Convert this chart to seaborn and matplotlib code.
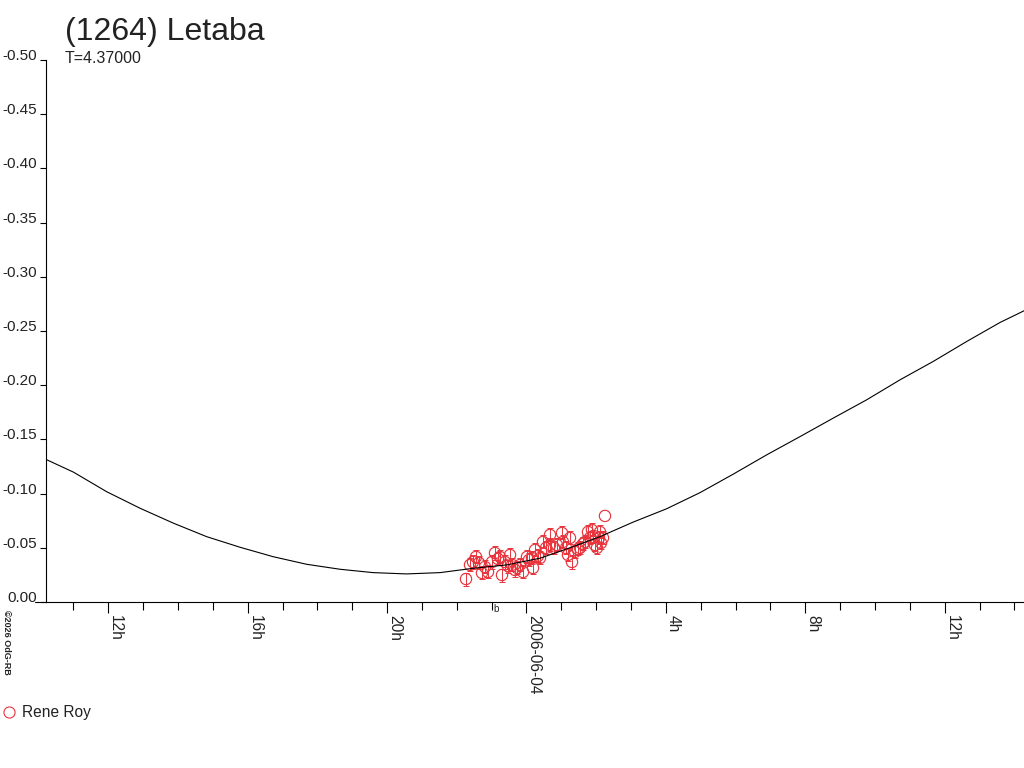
import numpy as np
import pandas as pd
import seaborn as sns
import matplotlib
matplotlib.use("Agg")
import matplotlib.pyplot as plt
from matplotlib.lines import Line2D
from matplotlib.ticker import MultipleLocator, FixedLocator

# fitted curve, hours from 2006-06-04 0h UT vs relative magnitude
curve_hours = [-13.82, -13.00, -12.05, -11.09, -10.13, -9.18, -8.22, -7.27, -6.31,
               -5.35, -4.40, -3.44, -2.48, -1.91, -1.53, -0.57, 0.39, 1.34, 2.11,
               3.06, 4.02, 4.98, 5.93, 6.89, 7.85, 8.80, 9.76, 10.72, 11.67, 12.63,
               13.59, 14.30]
curve_mag = [-0.1320, -0.1198, -0.1018, -0.0865, -0.0727, -0.0603, -0.0505, -0.0418,
             -0.0348, -0.0302, -0.0271, -0.0259, -0.0271, -0.0295, -0.0311, -0.0342,
             -0.0404, -0.0511, -0.0603, -0.0737, -0.0860, -0.1009, -0.1179, -0.1357,
             -0.1526, -0.1696, -0.1865, -0.2050, -0.2219, -0.2403, -0.2579, -0.2690]

# observations (Rene Roy)
obs_hours = [-1.736, -1.621, -1.535, -1.449, -1.363, -1.277, -1.191, -1.105, -0.990,
             -0.904, -0.818, -0.760, -0.703, -0.617, -0.531, -0.473, -0.416, -0.330,
             -0.273, -0.187, -0.100, 0.014, 0.072, 0.158, 0.187, 0.244, 0.330, 0.387,
             0.473, 0.560, 0.674, 0.674, 0.789, 0.875, 1.019, 1.047, 1.133, 1.191,
             1.248, 1.306, 1.392, 1.478, 1.535, 1.621, 1.679, 1.765, 1.822, 1.879,
             1.908, 1.966, 2.023, 2.080, 2.109, 2.138, 2.195, 2.252]
obs_mag = [-0.0212, -0.0342, -0.0369, -0.0416, -0.0360, -0.0268, -0.0323, -0.0277,
           -0.0369, -0.0452, -0.0397, -0.0416, -0.0249, -0.0369, -0.0332, -0.0434,
           -0.0342, -0.0295, -0.0314, -0.0342, -0.0277, -0.0416, -0.0388, -0.0406,
           -0.0314, -0.0480, -0.0425, -0.0406, -0.0554, -0.0499, -0.0619, -0.0526,
           -0.0499, -0.0526, -0.0637, -0.0554, -0.0499, -0.0434, -0.0591, -0.0369,
           -0.0462, -0.0489, -0.0499, -0.0536, -0.0554, -0.0646, -0.0591, -0.0665,
           -0.0600, -0.0526, -0.0499, -0.0591, -0.0646, -0.0545, -0.0591, -0.0794]
obs_err = [0.006] * 55 + [0.0]

ytick_vals = [0.00, -0.05, -0.10, -0.15, -0.20, -0.25, -0.30, -0.35, -0.40, -0.45, -0.50]
xtick_vals = [-12, -8, -4, 0, 4, 8, 12]
xtick_labels = ["12h", "16h", "20h", "2006-06-04", "4h", "8h", "12h"]

curve = pd.DataFrame({"hours": curve_hours, "mag": curve_mag})
obs = pd.DataFrame({"hours": obs_hours, "mag": obs_mag, "err": obs_err})
with_err = obs[obs.err > 0]

sns.set_style("ticks")
plt.rcParams["font.family"] = ["Liberation Sans", "DejaVu Sans"]
plt.rcParams["axes.unicode_minus"] = False

red = "#e8343c"
txt = "#222222"

fig = plt.figure(figsize=(10.24, 7.68), dpi=100)
ax = fig.add_axes([46 / 1024, 1 - 602 / 768, 1 - 46 / 1024, 542 / 768])

ax.errorbar(with_err.hours, with_err.mag, yerr=with_err.err, fmt="none", ecolor=red,
            elinewidth=0.7, capsize=2.5, capthick=0.7, zorder=2)
sns.scatterplot(data=obs, x="hours", y="mag", marker="o", s=66, facecolors="none",
                edgecolor=red, linewidth=0.85, ax=ax, zorder=3)
sns.lineplot(data=curve, x="hours", y="mag", sort=False, color="black", lw=0.8,
             ax=ax, zorder=4)

ax.set_xlim(-13.788, 14.276)
ax.set_ylim(0.0, -0.50)
ax.set_xlabel("")
ax.set_ylabel("")

sns.despine(ax=ax, top=True, right=True)
for s in ["left", "bottom"]:
    ax.spines[s].set_linewidth(0.8)
    ax.spines[s].set_color("black")
# x axis line pokes out a bit to the left
ax.plot([-0.011, 0], [0, 0], transform=ax.transAxes, color="black", lw=0.8, clip_on=False)

ax.yaxis.set_major_locator(FixedLocator(ytick_vals))
ax.set_yticklabels(["%.2f" % v for v in ytick_vals])
ax.xaxis.set_major_locator(FixedLocator(xtick_vals))
ax.set_xticklabels(xtick_labels)
ax.xaxis.set_minor_locator(MultipleLocator(1))

ax.tick_params(axis="y", direction="out", length=4.5, width=0.8, pad=2, labelsize=11,
               colors="black", labelcolor=txt)
ax.tick_params(axis="x", which="major", direction="out", length=8, width=0.8, pad=1.5,
               labelsize=11.2, colors="black", labelcolor=txt)
ax.tick_params(axis="x", which="minor", direction="out", length=6, width=0.8, colors="black")
for lbl in ax.get_yticklabels():
    lbl.set_verticalalignment("baseline")
for lbl in ax.get_xticklabels():
    lbl.set_rotation(270)
    lbl.set_horizontalalignment("left")
    lbl.set_verticalalignment("top")

# little marker glyph under the 23h tick
ax.text(-0.96, -0.004, "b", transform=ax.get_xaxis_transform(), fontsize=7,
        ha="left", va="top", color=txt)

fig.text(65 / 1024, 1 - 40 / 768, "(1264) Letaba", fontsize=23, color=txt, va="baseline")
fig.text(65 / 1024, 1 - 63 / 768, "T=4.37000", fontsize=11.5, color=txt, va="baseline")
fig.text(2 / 1024, 1 - 610 / 768, "\u00a92026 OdG-RB", fontsize=6.5, fontweight="bold",
         rotation=270, ha="left", va="top", color=txt)

handle = Line2D([], [], marker="o", ls="none", mfc="none", mec=red, mew=0.8, ms=8)
leg = fig.legend(handles=[handle], labels=["Rene Roy"], loc="center left",
                 bbox_to_anchor=(0.0, 1 - 713 / 768), frameon=False, fontsize=11.2,
                 handlelength=0.8, handletextpad=0.4, borderpad=0.2, borderaxespad=0.0)
for t in leg.get_texts():
    t.set_color(txt)

fig.savefig("out.png", dpi=100)
